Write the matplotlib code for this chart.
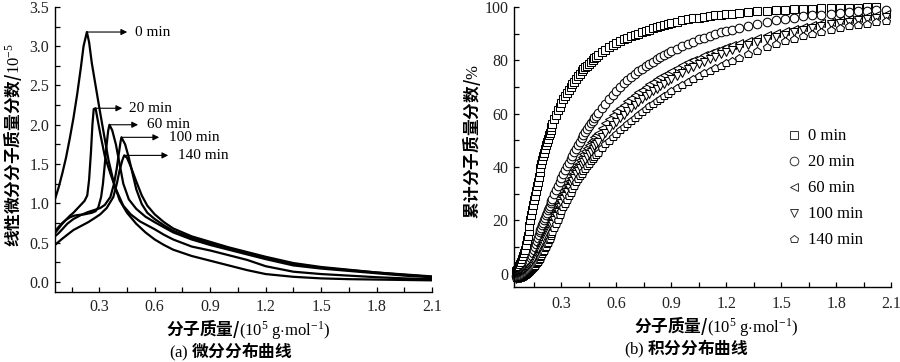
import numpy as np
import matplotlib.pyplot as plt
from matplotlib.lines import Line2D

plt.rcParams['font.family'] = ['Liberation Serif', 'Noto Sans CJK SC']
plt.rcParams['mathtext.fontset'] = 'custom'
plt.rcParams['mathtext.rm'] = 'Liberation Serif'
plt.rcParams['mathtext.it'] = 'Liberation Serif:italic'

CJK = ['Noto Sans CJK SC']
labels = ['0 min', '20 min', '60 min', '100 min', '140 min']

# (a) differential distribution, 10^-5
x_0 = [0.06, 0.08, 0.10, 0.12, 0.14, 0.16, 0.18, 0.20, 0.215, 0.233, 0.245, 0.26, 0.28, 0.30, 0.32,
       0.35, 0.38, 0.41, 0.45, 0.50, 0.55, 0.60, 0.65, 0.70, 0.80, 0.90, 1.0, 1.1, 1.2, 1.35,
       1.5, 1.65, 1.8, 1.95, 2.1]
y_0 = [1.05, 1.2, 1.38, 1.58, 1.82, 2.08, 2.38, 2.72, 3.0, 3.18, 3.05, 2.78, 2.5, 2.22, 1.95,
       1.55, 1.25, 1.04, 0.88, 0.74, 0.63, 0.54, 0.47, 0.41, 0.33, 0.27, 0.21, 0.15, 0.10, 0.065,
       0.045, 0.035, 0.03, 0.025, 0.02]

x_20 = [0.06, 0.08, 0.10, 0.12, 0.14, 0.16, 0.18, 0.20, 0.22, 0.235, 0.245, 0.255, 0.263, 0.27,
        0.28, 0.29, 0.305, 0.33, 0.36, 0.39, 0.43, 0.47, 0.52, 0.60, 0.65, 0.70, 0.80, 0.90,
        1.0, 1.1, 1.2, 1.35, 1.5, 1.65, 1.8, 1.95, 2.1]
y_20 = [0.62, 0.68, 0.74, 0.79, 0.84, 0.88, 0.93, 0.98, 1.03, 1.1, 1.3, 1.65, 2.0, 2.2,
        2.21, 2.08, 1.89, 1.6, 1.38, 1.18, 0.97, 0.86, 0.77, 0.67, 0.6, 0.54, 0.45, 0.4,
        0.34, 0.28, 0.2, 0.13, 0.1, 0.08, 0.06, 0.045, 0.035]

x_60 = [0.06, 0.08, 0.10, 0.12, 0.14, 0.16, 0.18, 0.20, 0.22, 0.24, 0.26, 0.28, 0.295, 0.31,
        0.32, 0.33, 0.34, 0.348, 0.355, 0.37, 0.39, 0.41, 0.43, 0.46, 0.50, 0.55, 0.60, 0.70,
        0.80, 0.90, 1.0, 1.1, 1.2, 1.35, 1.5, 1.65, 1.8, 1.95, 2.1]
y_60 = [0.64, 0.7, 0.75, 0.79, 0.82, 0.84, 0.85, 0.855, 0.86, 0.87, 0.88, 0.9, 0.95, 1.08,
        1.25, 1.5, 1.75, 1.92, 2.0, 1.93, 1.75, 1.5, 1.25, 1.05, 0.93, 0.83, 0.76, 0.63,
        0.54, 0.47, 0.41, 0.35, 0.29, 0.21, 0.17, 0.14, 0.11, 0.08, 0.06]

x_100 = [0.06, 0.08, 0.10, 0.127, 0.16, 0.20, 0.24, 0.28, 0.305, 0.33, 0.36, 0.38, 0.395, 0.405,
         0.415, 0.42, 0.44, 0.46, 0.48, 0.50, 0.53, 0.56, 0.60, 0.65, 0.70, 0.80, 0.90, 1.0,
         1.1, 1.2, 1.35, 1.5, 1.65, 1.8, 1.95, 2.1]
y_100 = [0.58, 0.62, 0.67, 0.74, 0.8, 0.85, 0.89, 0.92, 0.94, 0.98, 1.08, 1.25, 1.45, 1.62,
         1.78, 1.84, 1.75, 1.58, 1.38, 1.18, 0.99, 0.88, 0.8, 0.72, 0.65, 0.56, 0.49, 0.43,
         0.37, 0.31, 0.23, 0.18, 0.15, 0.12, 0.09, 0.065]

x_140 = [0.06, 0.08, 0.10, 0.127, 0.16, 0.20, 0.24, 0.28, 0.305, 0.34, 0.376, 0.395, 0.41, 0.425,
         0.435, 0.45, 0.47, 0.50, 0.53, 0.56, 0.60, 0.65, 0.70, 0.80, 0.90, 1.0, 1.1, 1.2,
         1.35, 1.5, 1.65, 1.8, 1.95, 2.1]
y_140 = [0.47, 0.51, 0.55, 0.6, 0.66, 0.71, 0.76, 0.82, 0.86, 0.94, 1.08, 1.25, 1.42, 1.55,
         1.61, 1.58, 1.47, 1.28, 1.1, 0.97, 0.86, 0.76, 0.68, 0.58, 0.51, 0.44, 0.38, 0.32,
         0.24, 0.19, 0.155, 0.12, 0.095, 0.07]

# peak labels: arrow head x, text x
head_x = [0.451, 0.424, 0.51, 0.624, 0.673]
text_x = [0.495, 0.462, 0.56, 0.678, 0.727]

# (b) cumulative distribution, %
mass = [0.050, 0.055, 0.060, 0.065, 0.070, 0.075, 0.080, 0.085, 0.090, 0.095,
        0.100, 0.105, 0.110, 0.115, 0.120, 0.125, 0.130, 0.135, 0.140, 0.145,
        0.150, 0.155, 0.160, 0.165, 0.170, 0.175, 0.180, 0.185, 0.190, 0.195,
        0.200, 0.205, 0.210, 0.215, 0.220, 0.225, 0.230, 0.235, 0.240, 0.245, 0.250,
        0.26, 0.27, 0.28, 0.29, 0.30, 0.31, 0.32, 0.33, 0.34, 0.35, 0.36, 0.37, 0.38,
        0.39, 0.40, 0.41, 0.42, 0.43, 0.44, 0.45, 0.46, 0.47, 0.48, 0.49, 0.50,
        0.52, 0.54, 0.56, 0.58, 0.60, 0.62, 0.64, 0.66, 0.68, 0.70, 0.72, 0.74, 0.76,
        0.78, 0.80, 0.82, 0.84, 0.86, 0.88, 0.90,
        0.93, 0.96, 0.99, 1.02, 1.05, 1.08, 1.11, 1.14, 1.17, 1.20, 1.23,
        1.27, 1.32, 1.37, 1.42, 1.47, 1.52, 1.57, 1.62, 1.67, 1.72, 1.77, 1.82, 1.87,
        1.92, 1.97, 2.02, 2.07]
cum_0 = [1, 1.5, 2, 2.5, 3, 3.7, 4.5, 5.5, 6.5, 7.7,
         9, 10.7, 12.5, 14.2, 16, 18, 20, 22, 24, 25.7,
         27.5, 29.2, 31, 32.7, 34.5, 36.2, 38, 39.5, 41, 42.5,
         44, 45.4, 46.8, 48.2, 49.5, 50.6, 51.8, 52.9, 54, 55, 56,
         58, 59.6, 61.2, 62.6, 64, 65.3, 66.5, 67.8, 69, 70, 71, 72, 73,
         74, 75, 75.8, 76.6, 77.3, 78, 78.7, 79.3, 80, 80.7, 81.3, 82,
         83, 84, 84.9, 85.7, 86.5, 87.1, 87.8, 88.4, 89, 89.5, 90, 90.5, 91,
         91.5, 92, 92.4, 92.8, 93.2, 93.6, 94,
         94.5, 94.9, 95.4, 95.7, 96, 96.3, 96.6, 96.8, 97.1, 97.3, 97.5,
         97.7, 98, 98.3, 98.5, 98.7, 98.9, 99.1, 99.2, 99.3, 99.4, 99.5, 99.6, 99.7,
         99.7, 99.8, 99.9, np.nan]
cum_20 = [-1, -0.9, -0.8, -0.65, -0.5, -0.25, 0, 0.25, 0.5, 0.85,
          1.2, 1.6, 2, 2.6, 3.2, 4, 4.8, 5.8, 6.8, 7.9,
          9, 10.1, 11.2, 12.3, 13.4, 14.5, 15.5, 16.4, 17.3, 18.2,
          19, 20, 20.9, 21.9, 22.8, 23.7, 24.6, 25.5, 26.4, 27.3, 28.1,
          29.8, 31.4, 33, 34.5, 36, 37.5, 38.9, 40.3, 41.6, 42.9, 44.2, 45.5, 46.8,
          48.2, 49.5, 50.7, 51.8, 53, 54.1, 55.2, 56.3, 57.3, 58.2, 59.2, 60.1,
          62, 63.7, 65.3, 67, 68.5, 70, 71.3, 72.5, 73.6, 74.7, 75.8, 76.8, 77.7,
          78.6, 79.5, 80.3, 81.1, 81.9, 82.6, 83.3,
          84.3, 85.3, 86.2, 87, 87.8, 88.5, 89.2, 89.8, 90.4, 91, 91.5,
          92.2, 92.9, 93.6, 94.3, 94.9, 95.4, 95.9, 96.4, 96.8, 97.1, 97.5, 97.8, 98.1,
          98.3, 98.5, 98.7, 99]
cum_60 = [-1.5, -1.45, -1.4, -1.3, -1.2, -1.05, -0.9, -0.7, -0.5, -0.25,
          0, 0.35, 0.7, 1.1, 1.5, 2, 2.5, 3.1, 3.7, 4.3,
          5, 5.7, 6.5, 7.2, 8, 8.8, 9.6, 10.4, 11.3, 12.1,
          13, 13.8, 14.6, 15.4, 16.2, 17, 17.8, 18.6, 19.4, 20.2, 21,
          22.6, 24.2, 25.8, 27.4, 29, 30.4, 31.8, 33.2, 34.6, 36, 37.3, 38.7, 40,
          41.3, 42.5, 43.7, 44.9, 46, 47.1, 48.2, 49.2, 50.1, 51.1, 52, 52.9,
          54.7, 56.3, 57.9, 59.4, 60.9, 62.2, 63.4, 64.6, 65.8, 66.9, 68, 69, 70,
          71, 72, 72.8, 73.6, 74.4, 75.2, 76,
          77, 78.1, 79.2, 80.1, 81, 81.8, 82.7, 83.4, 84.2, 85, 85.6,
          86.4, 87.3, 88.4, 89.3, 90.1, 91, 91.8, 92.6, 93.2, 93.8, 94.4, 95, 95.5,
          96, 96.5, 96.9, 97.3]
cum_100 = [-1.8, -1.75, -1.7, -1.6, -1.5, -1.35, -1.2, -1.05, -0.9, -0.7,
           -0.5, -0.2, 0.1, 0.45, 0.8, 1.2, 1.6, 2, 2.5, 3,
           3.5, 4.1, 4.8, 5.4, 6.1, 6.8, 7.5, 8.2, 9, 9.7,
           10.5, 11.3, 12.1, 12.9, 13.7, 14.5, 15.3, 16.1, 16.9, 17.7, 18.5,
           20.1, 21.7, 23.3, 24.9, 26.5, 27.9, 29.3, 30.7, 32.1, 33.5, 34.8, 36, 37.2,
           38.4, 39.5, 40.6, 41.7, 42.8, 43.8, 44.8, 45.8, 46.7, 47.7, 48.6, 49.4,
           51.1, 52.6, 54.1, 55.6, 57, 58.3, 59.6, 60.8, 62, 63.2, 64.4, 65.5, 66.5,
           67.5, 68.5, 69.4, 70.3, 71.2, 72.1, 73,
           74.2, 75.4, 76.6, 77.6, 78.6, 79.5, 80.4, 81.3, 82.2, 83, 83.7,
           84.6, 85.7, 86.7, 87.8, 88.7, 89.6, 90.5, 91.3, 92, 92.7, 93.4, 94, 94.5,
           95, 95.4, 95.8, 96.2]
cum_140 = [-1.5, -1.5, -1.5, -1.45, -1.4, -1.3, -1.2, -1.05, -0.9, -0.7,
           -0.5, -0.25, 0, 0.25, 0.5, 0.8, 1.1, 1.45, 1.8, 2.15,
           2.5, 3, 3.5, 4, 4.5, 5, 5.6, 6.2, 6.8, 7.4,
           8, 8.7, 9.5, 10.2, 11, 11.7, 12.5, 13.2, 14, 14.8, 15.5,
           17.1, 18.7, 20.3, 21.9, 23.5, 24.9, 26.3, 27.7, 29.1, 30.4, 31.7, 33, 34.2,
           35.4, 36.5, 37.5, 38.5, 39.4, 40.3, 41.2, 42.1, 42.9, 43.8, 44.6, 45.4,
           47, 48.5, 49.9, 51.2, 52.5, 53.7, 54.9, 56.1, 57.3, 58.5, 59.6, 60.7, 61.7,
           62.7, 63.7, 64.7, 65.6, 66.5, 67.4, 68.3,
           69.5, 70.7, 72, 73, 74.1, 75.1, 76.1, 77.1, 78, 79, 79.8,
           81, 82.3, 83.6, 84.9, 86.1, 87.1, 88.1, 89, 89.9, 90.7, 91.5, 92.1, 92.7,
           93.2, 93.7, 94.2, 94.7]
markers = ['s', 'o', '<', 'v', 'p']


def style_axis(ax, xpad):
    for s in ['top', 'right']:
        ax.spines[s].set_visible(False)
    for s in ['left', 'bottom']:
        ax.spines[s].set_linewidth(1.0)
    ax.tick_params(which='both', direction='in', length=3.5, width=0.9,
                   labelsize=11.5, labelcolor='#222222')
    ax.tick_params(axis='x', pad=xpad)
    ax.tick_params(axis='y', pad=4)
    ax.set_xticks([0.3, 0.6, 0.9, 1.2, 1.5, 1.8, 2.1])
    ax.set_xticks(np.arange(0.15, 2.11, 0.15), minor=True)


fig = plt.figure(figsize=(9, 3.62), dpi=100)
ax1 = fig.add_axes([0.061, 0.193, 0.419, 0.788])
ax2 = fig.add_axes([0.571, 0.207, 0.419, 0.774])

# ---- (a)
curves = [(x_0, y_0), (x_20, y_20), (x_60, y_60), (x_100, y_100), (x_140, y_140)]
for (xs, ys), hx, tx, lab in zip(curves, head_x, text_x, labels):
    ax1.plot(xs, ys, color='black', lw=1.6, solid_joinstyle='round')
    k = int(np.argmax(ys))
    ax1.annotate('', xy=(hx, ys[k]), xytext=(xs[k], ys[k]),
                 arrowprops=dict(arrowstyle='-|>', color='black', lw=0.8,
                                 mutation_scale=9, shrinkA=0, shrinkB=0))
    ax1.text(tx, ys[k], lab, fontsize=11, va='center', ha='left')

style_axis(ax1, 5)
ax1.set_xlim(0.06, 2.1)
ax1.set_ylim(-0.13, 3.5)
ax1.set_yticks(np.arange(0, 3.51, 0.5))
ax1.set_yticks(np.arange(0, 3.51, 0.25), minor=True)
ax1.yaxis.set_major_formatter(plt.FormatStrFormatter('%.1f'))

# ---- (b)
series = [cum_0, cum_20, cum_60, cum_100, cum_140]
for ys, m, lab in zip(series, markers, labels):
    ax2.plot(mass, ys, linestyle='none', marker=m, markersize=6.2, markerfacecolor='white',
             markeredgecolor='black', markeredgewidth=0.75, label=lab, clip_on=False)

style_axis(ax2, 6.5)
ax2.set_xlim(0.04, 2.1)
ax2.set_ylim(-5, 100)
ax2.set_yticks(np.arange(0, 101, 20))
ax2.set_yticks(np.arange(0, 101, 10), minor=True)

handles = [Line2D([], [], linestyle='none', marker=m, markersize=6.2, markerfacecolor='white',
                  markeredgecolor='#333333', markeredgewidth=0.7) for m in markers]
ax2.legend(handles, labels, loc='center left', bbox_to_anchor=(0.68, 0.352), frameon=False,
           fontsize=12, handlelength=1.0, handletextpad=0.35, labelspacing=0.6)

# ---- axis labels and captions
unit = r'$\mathrm{(10^5\ g{\cdot}mol^{-1})}$'
fig.text(0.276, 0.09, '分子质量/' + unit, ha='center', va='center', fontsize=12,
         family=CJK, weight='bold')
fig.text(0.796, 0.1, '分子质量/' + unit, ha='center', va='center', fontsize=12,
         family=CJK, weight='bold')
fig.text(0.257, 0.027, r'$\mathrm{(a)}$ 微分分布曲线', ha='center', va='center', fontsize=12,
         family=CJK, weight='bold')
fig.text(0.763, 0.035, r'$\mathrm{(b)}$ 积分分布曲线', ha='center', va='center', fontsize=12,
         family=CJK, weight='bold')
fig.text(0.014, 0.6, r'线性微分分子质量分数/$\mathrm{10^{-5}}$', rotation=90, ha='center',
         va='center', fontsize=12, family=CJK, weight='bold')
fig.text(0.524, 0.61, r'累计分子质量分数/$\mathrm{\%}$', rotation=90, ha='center',
         va='center', fontsize=12, family=CJK, weight='bold')

fig.savefig('out.png', dpi=100)
